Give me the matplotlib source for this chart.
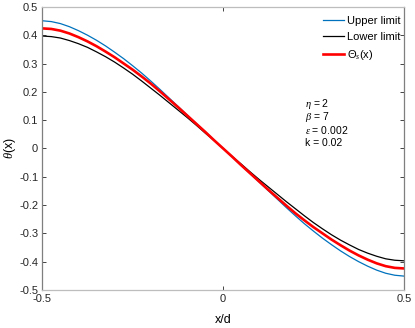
import numpy as np
import matplotlib
matplotlib.use('Agg')
import matplotlib.pyplot as plt

plt.rcParams['font.family'] = ['Liberation Sans', 'DejaVu Sans']
plt.rcParams['axes.unicode_minus'] = False
plt.rcParams['mathtext.fontset'] = 'custom'
plt.rcParams['mathtext.rm'] = 'Liberation Sans'
plt.rcParams['mathtext.it'] = 'Liberation Serif:italic'

# values
x = [-0.5, -0.475, -0.45, -0.425, -0.4, -0.375, -0.35, -0.325, -0.3, -0.275, -0.25,
     -0.225, -0.2, -0.175, -0.15, -0.125, -0.1, -0.075, -0.05, -0.025, 0.0,
     0.025, 0.05, 0.075, 0.1, 0.125, 0.15, 0.175, 0.2, 0.225, 0.25,
     0.275, 0.3, 0.325, 0.35, 0.375, 0.4, 0.425, 0.45, 0.475, 0.5]
upper = [0.451, 0.448, 0.441, 0.430, 0.416, 0.400, 0.382, 0.362, 0.340, 0.317, 0.292,
         0.266, 0.238, 0.209, 0.179, 0.149, 0.119, 0.089, 0.060, 0.030, 0.0,
         -0.030, -0.060, -0.089, -0.119, -0.149, -0.179, -0.209, -0.238, -0.266, -0.292,
         -0.317, -0.340, -0.362, -0.382, -0.400, -0.416, -0.430, -0.441, -0.448, -0.451]
lower = [0.397, 0.395, 0.390, 0.381, 0.370, 0.357, 0.341, 0.324, 0.305, 0.284, 0.262,
         0.238, 0.213, 0.188, 0.162, 0.136, 0.110, 0.083, 0.055, 0.028, 0.0,
         -0.028, -0.055, -0.083, -0.110, -0.136, -0.162, -0.188, -0.213, -0.238, -0.262,
         -0.284, -0.305, -0.324, -0.341, -0.357, -0.370, -0.381, -0.390, -0.395, -0.397]
theta_s = [0.424, 0.422, 0.416, 0.406, 0.393, 0.378, 0.361, 0.342, 0.322, 0.300, 0.278,
           0.254, 0.229, 0.202, 0.174, 0.146, 0.117, 0.088, 0.059, 0.029, 0.0,
           -0.029, -0.059, -0.088, -0.117, -0.146, -0.174, -0.202, -0.229, -0.254, -0.278,
           -0.300, -0.322, -0.342, -0.361, -0.378, -0.393, -0.406, -0.416, -0.422, -0.424]
params = ['$\\eta$ = 2', '$\\beta$ = 7', '$\\epsilon$ = 0.002', 'k = 0.02']
param_y = [0.156, 0.110, 0.064, 0.018]
yticks = [-0.5, -0.4, -0.3, -0.2, -0.1, 0, 0.1, 0.2, 0.3, 0.4, 0.5]
ytick_labels = ['-0.5', '-0.4', '-0.3', '-0.2', '-0.1', '0', '0.1', '0.2', '0.3', '0.4', '0.5']

fig = plt.figure(figsize=(4.15, 3.28), dpi=100)
ax = fig.add_axes([0.102, 0.116, 0.871, 0.863])

ax.plot(x, upper, color='#0072BD', lw=0.9, label='Upper limit')
ax.plot(x, lower, color='black', lw=0.9, label='Lower limit')
ax.plot(x, theta_s, color='red', lw=1.9, label='$\\Theta_s$(x)')

ax.set_xlim(-0.5, 0.5)
ax.set_ylim(-0.5, 0.5)
ax.set_xticks([-0.5, 0, 0.5])
ax.set_xticklabels(['-0.5', '0', '0.5'])
ax.set_yticks(yticks)
ax.set_yticklabels(ytick_labels)
ax.tick_params(direction='in', length=3, width=0.6, labelsize=8, colors='#262626',
               top=True, right=True, pad=3)

for side in ['left', 'right']:
    ax.spines[side].set_color('#7f7f7f')
for side in ['top', 'bottom']:
    ax.spines[side].set_color('#bdbdbd')
for s in ax.spines.values():
    s.set_linewidth(0.9)

ax.set_xlabel('x/d', fontsize=9, labelpad=7)
ax.set_ylabel('$\\mathit{\\theta}$(x)', fontsize=9, labelpad=1)

leg = ax.legend(loc='upper right', bbox_to_anchor=(1.012, 0.995), frameon=False,
                fontsize=8, handlelength=1.9, handletextpad=0.25, labelspacing=0.55,
                borderaxespad=0.3)

for label, yy in zip(params, param_y):
    ax.text(0.226, yy, label, fontsize=7.5, va='center', ha='left')

fig.savefig('out.png', dpi=100)
